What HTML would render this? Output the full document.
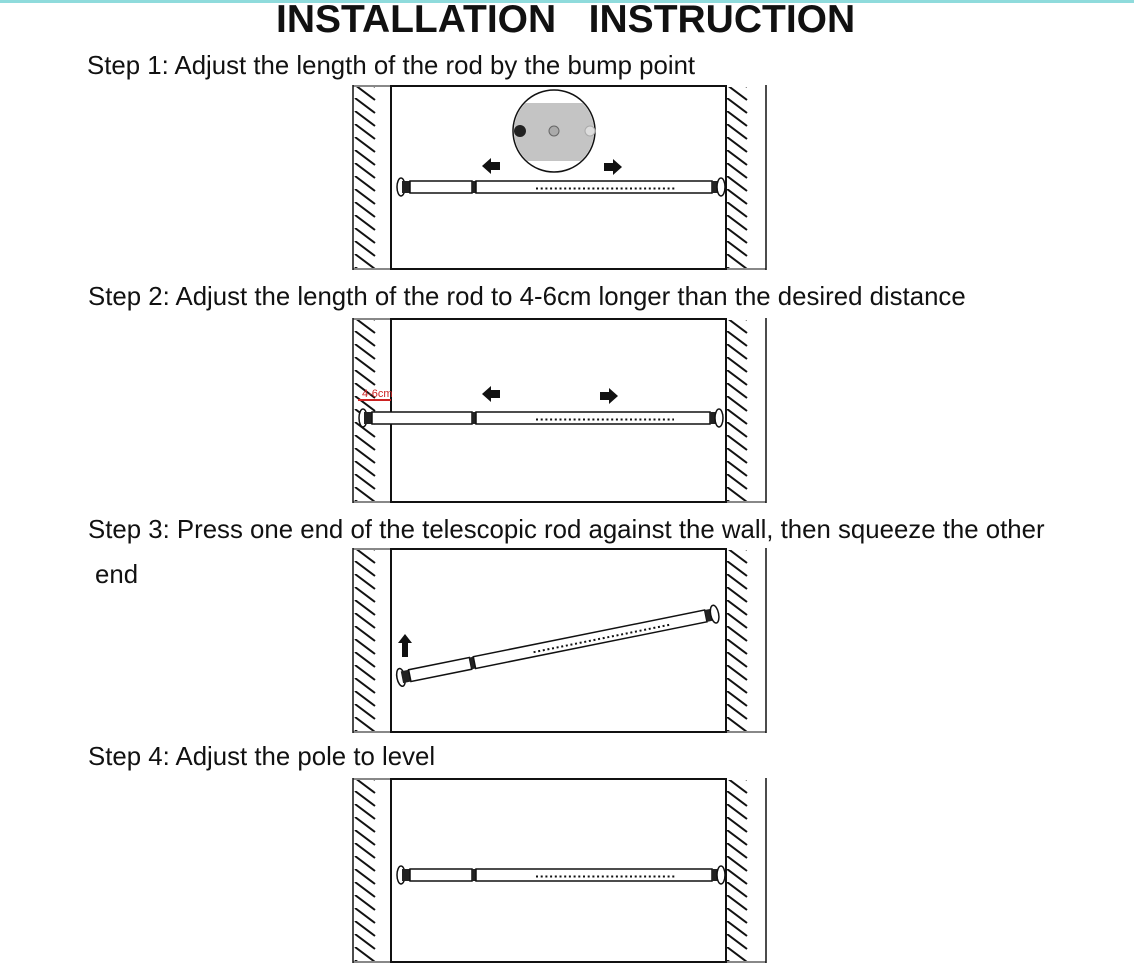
<!DOCTYPE html>
<html><head><meta charset="utf-8"><style>
html,body{margin:0;padding:0;background:#fff;}
body{width:1134px;height:974px;overflow:hidden;position:relative;font-family:"Liberation Sans",sans-serif;}
.t{position:absolute;font-size:25.8px;line-height:30px;color:#111;white-space:nowrap;}
</style></head><body>
<div style="position:absolute;left:0;top:0;width:1134px;height:3px;background:#8fdbdc"></div>
<div class="t" style="left:276px;top:0px;font-size:39px;line-height:40px;font-weight:bold;">INSTALLATION&nbsp;&nbsp; INSTRUCTION</div>
<div class="t" style="left:87px;top:51px">Step 1: Adjust the length of the rod by the bump point</div>
<div class="t" style="left:88px;top:282px">Step 2: Adjust the length of the rod to 4-6cm longer than the desired distance</div>
<div class="t" style="left:88px;top:515px">Step 3: Press one end of the telescopic rod against the wall, then squeeze the other</div>
<div class="t" style="left:95px;top:560px">end</div>
<div class="t" style="left:88px;top:742px">Step 4: Adjust the pole to level</div>
<svg width="1134" height="974" style="position:absolute;left:0;top:0">
<defs>
<pattern id="h" width="40" height="13" patternUnits="userSpaceOnUse" x="353">
<line x1="2" y1="-13" x2="22" y2="2" stroke="#111" stroke-width="2"/>
<line x1="2" y1="0" x2="22" y2="15" stroke="#111" stroke-width="2"/>
</pattern>
<pattern id="h2" width="40" height="13" patternUnits="userSpaceOnUse" x="726">
<line x1="1" y1="-13" x2="21" y2="2" stroke="#111" stroke-width="2"/>
<line x1="1" y1="0" x2="21" y2="15" stroke="#111" stroke-width="2"/>
</pattern>
<g id="panel" fill="none" stroke="#111" stroke-width="2">
<rect x="353" y="2" width="38" height="181" fill="url(#h)" stroke="none"/>
<line x1="353" y1="0" x2="353" y2="185" stroke-width="1.5"/>
<line x1="391" y1="0" x2="391" y2="185"/>
<rect x="726" y="2" width="40" height="181" fill="url(#h2)" stroke="none"/>
<line x1="726" y1="0" x2="726" y2="185"/>
<line x1="766" y1="0" x2="766" y2="185" stroke-width="1.5"/>
<line x1="391" y1="1" x2="726" y2="1"/>
<line x1="391" y1="184" x2="726" y2="184"/>
<line x1="353" y1="1" x2="391" y2="1" stroke-width="1"/>
<line x1="353" y1="184" x2="391" y2="184" stroke-width="1"/>
<line x1="726" y1="184" x2="766" y2="184" stroke-width="1"/>
</g>
<g id="rod">
<ellipse cx="3" cy="0" rx="4" ry="9" fill="#fff" stroke="#111" stroke-width="1.5"/>
<rect x="4" y="-6" width="8" height="12" fill="#222"/>
<rect x="12" y="-6" width="62" height="12" fill="#fff" stroke="#111" stroke-width="1.5"/>
<rect x="74" y="-6" width="4" height="12" fill="#222"/>
<rect x="78" y="-6" width="236" height="12" fill="#fff" stroke="#111" stroke-width="1.5"/>
<line x1="138" y1="1.5" x2="278" y2="1.5" stroke="#111" stroke-width="2" stroke-dasharray="2,2.7"/>
<rect x="314" y="-6" width="8" height="12" fill="#222"/>
<ellipse cx="323" cy="0" rx="4" ry="9" fill="#fff" stroke="#111" stroke-width="1.5"/>
</g>
<g id="rod2">
<ellipse cx="3" cy="0" rx="4" ry="9" fill="#fff" stroke="#111" stroke-width="1.5"/>
<rect x="4" y="-6" width="8" height="12" fill="#222"/>
<rect x="12" y="-6" width="100" height="12" fill="#fff" stroke="#111" stroke-width="1.5"/>
<rect x="112" y="-6" width="4" height="12" fill="#222"/>
<rect x="116" y="-6" width="234" height="12" fill="#fff" stroke="#111" stroke-width="1.5"/>
<line x1="176" y1="1.5" x2="314" y2="1.5" stroke="#111" stroke-width="2" stroke-dasharray="2,2.7"/>
<rect x="350" y="-6" width="8" height="12" fill="#222"/>
<ellipse cx="359" cy="0" rx="4" ry="9" fill="#fff" stroke="#111" stroke-width="1.5"/>
</g>
<path id="la" d="M0 0 L9 -8 L9 -4 L18 -4 L18 4 L9 4 L9 8 Z" fill="#111"/>
<path id="ra" d="M18 0 L9 -8 L9 -4 L0 -4 L0 4 L9 4 L9 8 Z" fill="#111"/>
</defs>
<use href="#panel" y="85"/>
<use href="#panel" y="318"/>
<use href="#panel" y="548"/>
<use href="#panel" y="778"/>
<circle cx="554" cy="131" r="41" fill="#fff" stroke="#111" stroke-width="1.5"/>
<clipPath id="c"><circle cx="554" cy="131" r="40"/></clipPath>
<rect x="510" y="103" width="90" height="58" fill="#c4c4c4" clip-path="url(#c)"/>
<circle cx="520" cy="131" r="6" fill="#222"/>
<circle cx="554" cy="131" r="5" fill="#aaa" stroke="#666"/>
<circle cx="590" cy="131" r="5" fill="#ddd" stroke="#aaa"/>
<use href="#la" x="482" y="166"/>
<use href="#ra" x="604" y="167"/>
<use href="#rod" x="398" y="187"/>
<use href="#la" x="482" y="394"/>
<use href="#ra" x="600" y="396"/>
<use href="#rod2" x="360" y="418"/>
<text x="362" y="397" font-size="11" fill="#c22" font-family="Liberation Sans">4-6cm</text>
<line x1="358" y1="400" x2="391" y2="400" stroke="#c22" stroke-width="2"/>
<path d="M405 634 L412 643 L408 643 L408 657 L402 657 L402 643 L398 643 Z" fill="#111"/>
<g transform="translate(398,678) rotate(-11.4)"><use href="#rod"/></g>
<use href="#rod" x="398" y="875"/>
</svg>
</body></html>
